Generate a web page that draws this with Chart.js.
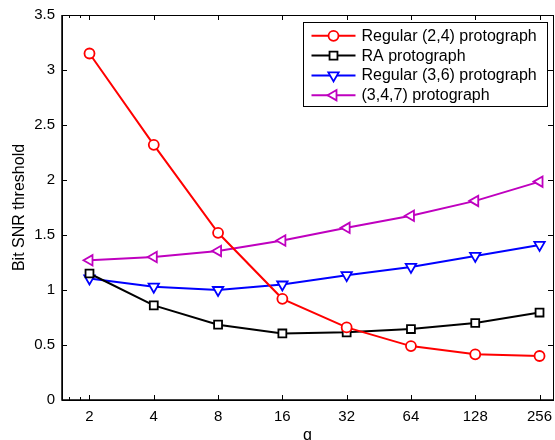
<!DOCTYPE html>
<html>
<head>
<meta charset="utf-8">
<script src="https://cdn.jsdelivr.net/npm/chart.js@4/dist/chart.umd.min.js"></script>
<style>
  html, body { margin: 0; padding: 0; background: #fff; }
  #wrap { width: 555px; height: 440px; }
</style>
</head>
<body>
<div id="wrap"><canvas id="c" width="555" height="440"></canvas></div>
<script>
// Lifting factor q (log2 axis) and bit-SNR thresholds per protograph family
const qValues = [2, 4, 8, 16, 32, 64, 128, 256];
const regular24 = [3.15, 2.32, 1.52, 0.92, 0.66, 0.49, 0.415, 0.40];
const raProto = [1.15, 0.86, 0.685, 0.605, 0.615, 0.645, 0.70, 0.795];
const regular36 = [1.105, 1.03, 1.0, 1.05, 1.135, 1.21, 1.31, 1.41];
const proto347 = [1.27, 1.30, 1.355, 1.45, 1.565, 1.675, 1.81, 1.985];
const seriesLabels = ['Regular (2,4) protograph', 'RA protograph', 'Regular (3,6) protograph', '(3,4,7) protograph'];
const yTicks = [0, 0.5, 1, 1.5, 2, 2.5, 3, 3.5];
const xMinorTicks = [1.6, 1.8];

const FONT = '"Liberation Sans", Arial, Helvetica, sans-serif';

function series(label, values, color, style, rotation, radius) {
  return {
    label: label,
    data: qValues.map((q, i) => ({ x: q, y: values[i] })),
    borderColor: color,
    backgroundColor: color,
    borderWidth: 2,
    tension: 0,
    pointStyle: style,
    rotation: rotation,
    pointRadius: radius,
    pointHoverRadius: radius,
    pointBorderWidth: 1.8,
    pointBorderColor: color,
    pointBackgroundColor: '#ffffff'
  };
}

const datasets = [
  series(seriesLabels[0], regular24, '#ff0000', 'circle', 0, 5),
  series(seriesLabels[1], raProto, '#000000', 'rect', 0, 5.6),
  series(seriesLabels[2], regular36, '#0000ff', 'triangle', 180, 6),
  series(seriesLabels[3], proto347, '#bf00bf', 'triangle', 270, 6)
];

// Boxed axes with inward tick marks on all four sides
const frame = {
  id: 'frame',
  afterDatasetsDraw(chart) {
    const { ctx, chartArea: a, scales } = chart;
    const len = 5;
    ctx.save();
    ctx.strokeStyle = '#000';
    ctx.lineWidth = 1;
    ctx.beginPath();
    scales.x.ticks.forEach(t => {
      const px = Math.round(scales.x.getPixelForValue(t.value)) + 0.5;
      ctx.moveTo(px, a.bottom); ctx.lineTo(px, a.bottom - len);
      ctx.moveTo(px, a.top); ctx.lineTo(px, a.top + len);
    });
    xMinorTicks.forEach(v => {
      const px = Math.round(scales.x.getPixelForValue(v)) + 0.5;
      ctx.moveTo(px, a.bottom); ctx.lineTo(px, a.bottom - 3);
      ctx.moveTo(px, a.top); ctx.lineTo(px, a.top + 3);
    });
    scales.y.ticks.forEach(t => {
      const py = Math.round(scales.y.getPixelForValue(t.value)) + 0.5;
      ctx.moveTo(a.left, py); ctx.lineTo(a.left + len, py);
      ctx.moveTo(a.right, py); ctx.lineTo(a.right - len, py);
    });
    ctx.stroke();
    ctx.lineWidth = 1;
    ctx.strokeRect(Math.round(a.left) + 0.5, Math.round(a.top) + 0.5,
                   Math.round(a.right - a.left), Math.round(a.bottom - a.top));
    ctx.lineWidth = 1.5;
    ctx.beginPath();
    ctx.moveTo(a.left, a.top); ctx.lineTo(a.left, a.bottom); ctx.lineTo(a.right, a.bottom);
    ctx.stroke();
    ctx.restore();
  }
};

// Legend box in the upper-right corner of the plot
const insetLegend = {
  id: 'insetLegend',
  afterDraw(chart) {
    const { ctx, chartArea: a } = chart;
    const boxW = 244, boxH = 84;
    const x0 = a.right - 6.5 - boxW, y0 = a.top + 7.3;
    ctx.save();
    ctx.fillStyle = '#fff';
    ctx.fillRect(x0, y0, boxW, boxH);
    ctx.strokeStyle = '#000';
    ctx.lineWidth = 1;
    ctx.strokeRect(Math.round(x0) + 0.5, Math.round(y0) + 0.5, boxW, boxH);
    ctx.font = '16px ' + FONT;
    ctx.textBaseline = 'middle';
    ctx.textAlign = 'left';
    chart.data.datasets.forEach((ds, i) => {
      const cy = y0 + 13.5 + i * 19.8;
      const lx0 = x0 + 9, lx1 = x0 + 53;
      ctx.strokeStyle = ds.borderColor;
      ctx.lineWidth = 2;
      ctx.beginPath();
      ctx.moveTo(lx0, cy); ctx.lineTo(lx1, cy);
      ctx.stroke();
      ctx.fillStyle = '#fff';
      ctx.strokeStyle = ds.borderColor;
      ctx.lineWidth = 1.8;
      Chart.helpers.drawPoint(ctx, {
        pointStyle: ds.pointStyle,
        rotation: ds.rotation,
        radius: ds.pointRadius,
        borderWidth: 1.8
      }, (lx0 + lx1) / 2, cy);
      ctx.fillStyle = '#000';
      ctx.fillText(ds.label, x0 + 59, cy + 0.5);
    });
    ctx.restore();
  }
};

// Invisible tick marks only reserve the gap between axis and labels
const hiddenGrid = {
  display: true,
  drawOnChartArea: false,
  drawTicks: true,
  tickColor: 'rgba(0,0,0,0)'
};

new Chart(document.getElementById('c'), {
  type: 'line',
  data: { datasets: datasets },
  options: {
    responsive: false,
    animation: false,
    events: [],
    layout: { autoPadding: false, padding: { top: 15, right: 2, left: 0, bottom: 0 } },
    plugins: { legend: { display: false }, tooltip: { enabled: false } },
    scales: {
      x: {
        type: 'logarithmic',
        min: 1.487,
        max: 296,
        afterBuildTicks(scale) { scale.ticks = qValues.map(v => ({ value: v })); },
        afterFit(scale) { scale.height = 40; },
        grid: Object.assign({ tickLength: 8 }, hiddenGrid),
        border: { display: false },
        ticks: {
          autoSkip: false,
          maxRotation: 0,
          padding: 0,
          color: '#000',
          font: { family: FONT, size: 15 },
          callback: (v) => String(v)
        },
        title: {
          display: true,
          text: 'q',
          color: '#000',
          font: { family: FONT, size: 16 },
          padding: { top: 0, bottom: -5 }
        }
      },
      y: {
        type: 'linear',
        min: 0,
        max: 3.5,
        afterBuildTicks(scale) { scale.ticks = yTicks.map(v => ({ value: v })); },
        afterFit(scale) { scale.width = 62; },
        grid: Object.assign({ tickLength: 7 }, hiddenGrid),
        border: { display: false },
        ticks: {
          padding: 0,
          color: '#000',
          font: { family: FONT, size: 15 },
          callback: (v) => String(v)
        },
        title: {
          display: true,
          text: 'Bit SNR threshold',
          color: '#000',
          font: { family: FONT, size: 16 },
          padding: { top: 10, bottom: 0 }
        }
      }
    }
  },
  plugins: [frame, insetLegend]
});
</script>
</body>
</html>
